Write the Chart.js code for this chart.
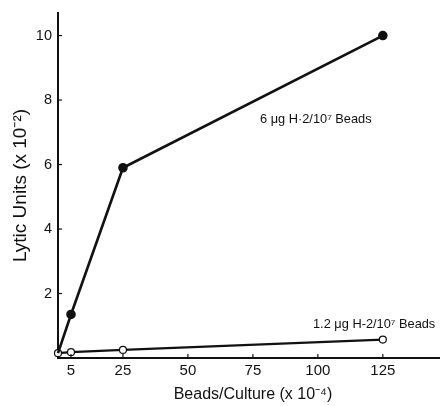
<!DOCTYPE html>
<html>
<head>
<meta charset="utf-8">
<script src="https://cdn.jsdelivr.net/npm/chart.js@4"></script>
<style>
  html, body { margin: 0; padding: 0; background: #fff; }
  #wrap { width: 440px; height: 406px; }
</style>
</head>
<body>
<div id="wrap"><canvas id="grafica"></canvas></div>
<script>
// datos
const perlas = [0, 5, 25, 125];
const lisis6 = [0.15, 1.35, 5.9, 10.0];
const lisis12 = [0.15, 0.18, 0.25, 0.57];
const ticksX = [5, 25, 50, 75, 100, 125];
const ticksY = [2, 4, 6, 8, 10];
const etiqueta6 = '6 \u03bcg H\u00b72/10\u2077 Beads';
const etiqueta12 = '1.2 \u03bcg H-2/10\u2077 Beads';
const tituloX = 'Beads/Culture (x 10\u207b\u2074)';
const tituloY = 'Lytic Units (x 10\u207b\u00b2)';

const fuente = "'Liberation Sans', Arial, sans-serif";
const tinta = '#111';

const puntos = (ys) => perlas.map((x, i) => ({ x: x, y: ys[i] }));

// marcas hacia adentro + textos sueltos
const extras = {
  id: 'extras',
  afterDraw(chart) {
    const ctx = chart.ctx;
    const sx = chart.scales.x, sy = chart.scales.y;
    const a = chart.chartArea;
    ctx.save();
    ctx.strokeStyle = tinta;
    ctx.lineWidth = 1.2;
    ticksX.forEach(v => {
      const px = sx.getPixelForValue(v);
      ctx.beginPath(); ctx.moveTo(px, a.bottom); ctx.lineTo(px, a.bottom - 4); ctx.stroke();
    });
    ticksY.forEach(v => {
      const py = sy.getPixelForValue(v);
      ctx.beginPath(); ctx.moveTo(a.left, py); ctx.lineTo(a.left + 4, py); ctx.stroke();
    });
    ctx.fillStyle = tinta;
    ctx.font = '12.8px ' + fuente;
    ctx.textBaseline = 'alphabetic';
    ctx.fillText(etiqueta6, 260, 123);
    ctx.fillText(etiqueta12, 313, 328);
    ctx.font = '16px ' + fuente;
    ctx.textAlign = 'center';
    ctx.fillText(tituloX, 253, 399);
    ctx.restore();
  }
};

new Chart(document.getElementById('grafica'), {
  type: 'line',
  data: {
    datasets: [
      {
        data: puntos(lisis6),
        borderColor: tinta,
        borderWidth: 2.6,
        pointRadius: [0, 3.5, 3.5, 3.5],
        pointBackgroundColor: tinta,
        pointBorderColor: tinta,
        tension: 0
      },
      {
        data: puntos(lisis12),
        borderColor: tinta,
        borderWidth: 2.2,
        pointRadius: 3.5,
        pointBorderWidth: 1.2,
        pointBackgroundColor: '#fff',
        pointBorderColor: tinta,
        tension: 0
      }
    ]
  },
  options: {
    responsive: true,
    maintainAspectRatio: false,
    animation: false,
    clip: false,
    layout: { autoPadding: false, padding: { top: 13, right: 0, left: 0, bottom: 0 } },
    plugins: { legend: { display: false }, tooltip: { enabled: false } },
    scales: {
      x: {
        type: 'linear',
        min: 0,
        max: 147,
        grid: { display: false, drawTicks: false },
        border: { color: tinta, width: 2 },
        afterBuildTicks: (s) => { s.ticks = ticksX.map(v => ({ value: v })); },
        afterFit: (s) => { s.height = 48; s.paddingRight = 0; s.paddingLeft = 0; },
        ticks: { padding: 4, color: tinta, font: { family: fuente, size: 15 } }
      },
      y: {
        min: 0,
        max: 10.7,
        grid: { display: false, drawTicks: false },
        border: { color: tinta, width: 2 },
        afterBuildTicks: (s) => { s.ticks = ticksY.map(v => ({ value: v })); },
        afterFit: (s) => { s.width = 58; s.paddingTop = 0; s.paddingBottom = 0; },
        ticks: { padding: 6, color: tinta, font: { family: fuente, size: 14.5 } },
        title: { display: true, text: tituloY, color: tinta, padding: { top: 9, bottom: 0 }, font: { family: fuente, size: 19 } }
      }
    }
  },
  plugins: [extras]
});
</script>
</body>
</html>
